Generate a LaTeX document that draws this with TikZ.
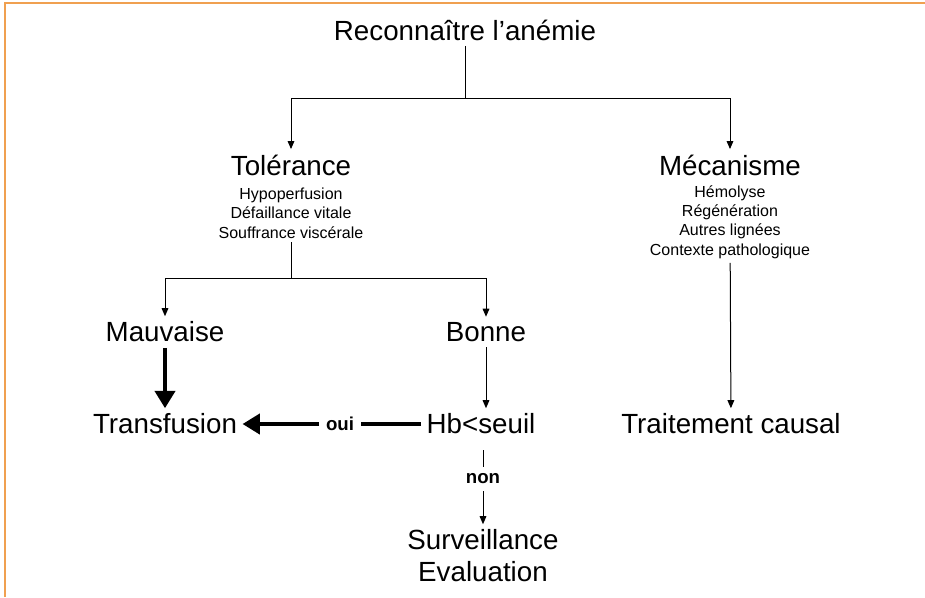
\documentclass[tikz,border=0pt]{standalone}
\usepackage{fontspec}
\setmainfont{Liberation Sans}
\usetikzlibrary{arrows.meta,positioning}
\definecolor{cadre}{RGB}{240,160,80}

\tikzset{
  titre/.style={font=\fontsize{20.8}{24}\selectfont, inner sep=4pt},
  detail/.style={font=\fontsize{12}{14.5}\selectfont, align=center, inner sep=3pt},
  choix/.style={font=\bfseries\fontsize{14}{16}\selectfont, inner sep=5pt},
  fil/.style={line width=0.75pt},
  fin/.style={fil, -{Triangle[width=5pt,length=6pt]}},
  epais/.style={line width=3pt},
  grosse/.style={epais, -{Triangle[width=15pt,length=13pt]}},
}

\begin{document}
\begin{tikzpicture}[x=0.75pt,y=-0.75pt]
		\useasboundingbox (0,0) rectangle (925,597);
		\draw[cadre,line width=1.5pt] (5,597) -- (5,2.5) -- (925,2.5);
		% niveaux
		\node[titre] (reco) at (465,30) {Reconnaître l’anémie};
		\node[titre] (tol) at (291,165) {Tolérance};
		\node[detail] (tolsub) at (291,213) {Hypoperfusion\\Défaillance vitale\\Souffrance viscérale};
		\node[titre] (meca) at (730,165) {Mécanisme};
		\node[detail] (mecasub) at (730,222) {Hémolyse\\Régénération\\Autres lignées\\Contexte pathologique};
		\node[titre] (mauv) at (165,332) {Mauvaise};
		\node[titre] (bonne) at (486,332) {Bonne};
		\node[titre] (transf) at (165,424) {Transfusion};
		\node[titre] (hb) at (481,424) {Hb<seuil};
		\node[titre] (caus) at (731,424) {Traitement causal};
		\node[choix] (oui) at (340,424) {oui};
		\node[choix] (non) at (483,479) {non};
		\node[titre,align=center] (surv) at (483,556) {Surveillance\\Evaluation};
		\coordinate (j1) at (465,98);
		\coordinate (j2) at (291,278);
		% liens
		\draw[fil] (reco) -- (j1);
		\draw[fin] (j1) -| (tol);
		\draw[fin] (j1) -| (meca);
		\draw[fil] (tolsub) -- (j2);
		\draw[fin] (j2) -| (mauv);
		\draw[fin] (j2) -| (bonne);
		\draw[fin] (mecasub) -- (caus);
		\draw[grosse] (mauv) -- (transf);
		\draw[fin] (bonne) -- (bonne |- hb.north);
		\draw[epais] (hb) -- (oui);
		\draw[grosse] (oui) -- (transf);
		\draw[fil,shorten <=8pt] (non |- hb.south) -- (non);
		\draw[fin] (non) -- (surv);
	\end{tikzpicture}
\end{document}
